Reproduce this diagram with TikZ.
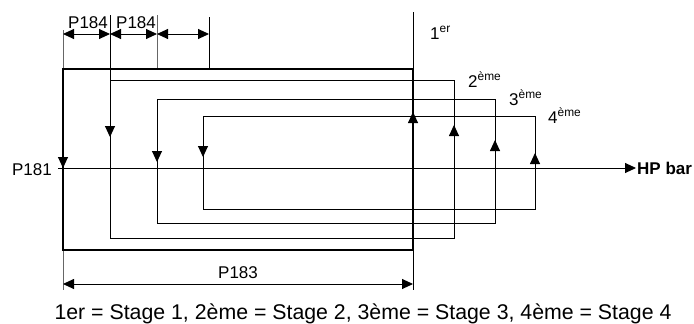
\documentclass[tikz,border=0pt]{standalone}
\usepackage{fontspec}
\setmainfont{Liberation Sans}
\usetikzlibrary{arrows.meta}
\tikzset{
  thinline/.style={line width=0.9pt, black},
  thickline/.style={line width=2pt, black},
  extline/.style={line width=0.9pt, black!60},
  tipline/.style={-{Triangle[length=11pt,width=10pt]}, line width=0.9pt, black},
  dimline/.style={{Triangle[length=11pt,width=10pt]}-{Triangle[length=11pt,width=10pt]}, line width=0.9pt, black},
  lab/.style={font=\fontsize{17}{20}\selectfont, inner sep=0pt, anchor=base west},
}
\begin{document}
\begin{tikzpicture}[x=1pt,y=-1pt]
\useasboundingbox (0,0) rectangle (694,324);
% extension lines
\draw[extline] (63,30) -- (63,69);
\draw[extline] (63,250) -- (63,290);
\draw[thinline] (110,15) -- (110,80);
\draw[extline] (157,15) -- (157,69);
\draw[thinline] (209,17) -- (209,69);
\draw[thinline] (413,12) -- (413,290);
% stage loops
\draw[thinline] (110,80) rectangle (454,238);
\draw[thinline] (157,99) rectangle (495,223);
\draw[thinline] (203,116) rectangle (535,209);
\draw[thickline] (63,69) rectangle (413,250);
% HP bar
\draw[tipline] (58,168) -- (636,168);
% direction arrows
\draw[tipline] (63,157) -- (63,168);
\draw[tipline] (110,126) -- (110,137);
\draw[tipline] (157,151) -- (157,162);
\draw[tipline] (203,146) -- (203,157);
\draw[tipline] (413,123) -- (413,112);
\draw[tipline] (454,136) -- (454,125);
\draw[tipline] (495,151) -- (495,140);
\draw[tipline] (535,164) -- (535,153);
% dimensions
\draw[dimline] (63,34) -- (110,34);
\draw[dimline] (110,34) -- (157,34);
\draw[dimline] (157,34) -- (209,34);
\draw[dimline] (63,284) -- (413,284);
% labels
\node[lab] (p184a) at (68,28) {P184};
\node[lab] (p184b) at (116,28) {P184};
\node[lab, anchor=base east] (p181) at (52,175) {P181};
\node[lab] (p183) at (218,278) {P183};
\node[lab] (hp) at (637,174) {\bfseries HP bar};
\node[lab] (s1) at (430,39) {1\textsuperscript{er}};
\node[lab] (s2) at (468,87) {2\textsuperscript{ème}};
\node[lab] (s3) at (509,105) {3\textsuperscript{ème}};
\node[lab] (s4) at (548,123) {4\textsuperscript{ème}};
\node[lab, font=\fontsize{21.3}{24}\selectfont, anchor=base] (legend) at (363,319) {1er = Stage 1, 2ème = Stage 2, 3ème = Stage 3, 4ème = Stage 4};
\end{tikzpicture}
\end{document}
